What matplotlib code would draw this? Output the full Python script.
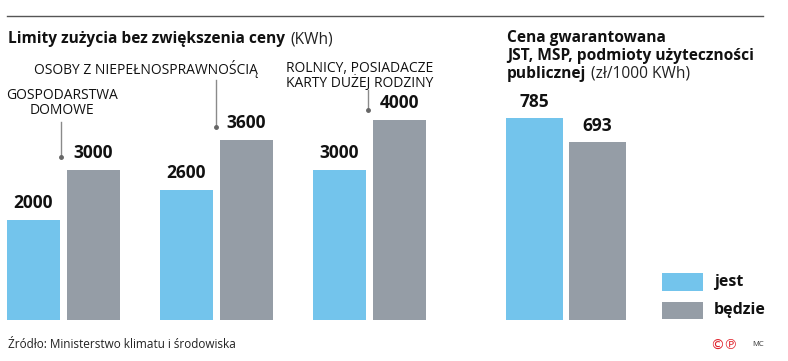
import matplotlib
matplotlib.use("Agg")
import matplotlib.pyplot as plt
from matplotlib.patches import Rectangle
from matplotlib.lines import Line2D

plt.rcParams['font.family'] = ['Open Sans', 'DejaVu Sans']

# dane
kategorie = ["GOSPODARSTWA\nDOMOWE", "OSOBY Z NIEPEŁNOSPRAWNOŚCIĄ", "ROLNICY, POSIADACZE\nKARTY DUŻEJ RODZINY"]
limity_jest = [2000, 2600, 3000]
limity_bedzie = [3000, 3600, 4000]
cena_jest = [785]
cena_bedzie = [693]
serie = ["jest", "będzie"]

BLUE = "#73C4EC"
GRAY = "#959DA6"
W, H = 788, 361


def fx(px):
    return px / W


def fy(py):
    return 1 - py / H


fig = plt.figure(figsize=(W / 100, H / 100), dpi=100)
fig.patch.set_facecolor("white")

# lewy wykres - osie w pikselach: baza y=320, 50 px / 1000 kWh
axL = fig.add_axes([0, fy(320), fx(460), 320 / H])
axL.set_xlim((0 - 63.5) / 153, (460 - 63.5) / 153)
axL.set_ylim(0, 6400)
axL.axis("off")

bw = 0.35
off = 0.196
xs = list(range(len(kategorie)))
b1 = axL.bar([x - off for x in xs], limity_jest, bw, color=BLUE)
b2 = axL.bar([x + off for x in xs], limity_bedzie, bw, color=GRAY)
for bars in (b1, b2):
    for r in bars:
        axL.annotate(f"{int(r.get_height())}", (r.get_x() + r.get_width() / 2, r.get_height()),
                     xytext=(0, 12.5), textcoords="offset points", ha="center", va="center",
                     fontsize=12.5, fontweight="bold", color="#111111")

# prawy wykres - 0.2573 px / zł
axR = fig.add_axes([fx(480), fy(320), fx(308), 320 / H])
axR.set_xlim((480 - 534.5) / 63, (788 - 534.5) / 63)
axR.set_ylim(0, 320 / 0.2573)
axR.axis("off")
r1 = axR.bar([0], cena_jest, 0.905, color=BLUE)
r2 = axR.bar([1], cena_bedzie, 0.905, color=GRAY)
for bars in (r1, r2):
    for r in bars:
        axR.annotate(f"{int(r.get_height())}", (r.get_x() + r.get_width() / 2, r.get_height()),
                     xytext=(0, 11.5), textcoords="offset points", ha="center", va="center",
                     fontsize=12.5, fontweight="bold", color="#111111")

# linia u góry
fig.add_artist(Line2D([fx(7), fx(763)], [fy(16), fy(16)], color="#555555", lw=1))

TS = 11.2
renderer = fig.canvas.get_renderer()


def after(txt, s, **kw):
    bb = txt.get_window_extent(renderer=renderer)
    return fig.text(fx(bb.x1 + 5), txt.get_position()[1], s, **kw)


# tytuły
t = fig.text(fx(8), fy(43), "Limity zużycia bez zwiększenia ceny", fontsize=TS,
             fontweight="bold", va="baseline", color="#111111")
after(t, "(KWh)", fontsize=TS, va="baseline", color="#222222")

fig.text(fx(507), fy(42), "Cena gwarantowana", fontsize=TS, fontweight="bold",
         va="baseline", color="#111111")
fig.text(fx(507), fy(60), "JST, MSP, podmioty użyteczności", fontsize=TS, fontweight="bold",
         va="baseline", color="#111111")
t3 = fig.text(fx(507), fy(78), "publicznej", fontsize=TS, fontweight="bold",
              va="baseline", color="#111111")
after(t3, "(zł/1000 KWh)", fontsize=TS, va="baseline", color="#222222")

# etykiety kategorii (środek bloku)
kat_pos = [(62, 103), (146, 69), (360, 76)]
for (x, y), k in zip(kat_pos, kategorie):
    fig.text(fx(x), fy(y), k, fontsize=10, ha="center", va="center",
             multialignment="center", linespacing=0.98, color="#111111")

# linie wskazujące
leaders = [(61, 122, 157), (216, 80, 127), (368, 90, 110)]
for x, y0, y1 in leaders:
    fig.add_artist(Line2D([fx(x), fx(x)], [fy(y0), fy(y1)], color="#8a8a8a", lw=1))
    fig.add_artist(Line2D([fx(x)], [fy(y1)], marker="o", ms=2.5, color="#666666", lw=0))

# legenda
for (y0, y1), s, c in zip([(273, 291), (302, 319)], serie, [BLUE, GRAY]):
    fig.add_artist(Rectangle((fx(662), fy(y1)), fx(703) - fx(662), fy(y0) - fy(y1),
                             transform=fig.transFigure, color=c, lw=0))
    fig.text(fx(714), fy((y0 + y1) / 2), s, fontsize=11.5, fontweight="bold", va="center",
             color="#111111")

# stopka
fig.text(fx(8), fy(345), "Źródło: Ministerstwo klimatu i środowiska", fontsize=8.5,
         va="center", color="#222222")
fig.text(fx(710), fy(345), "©℗", fontsize=10, va="center", color="#e0202a",
         family=['DejaVu Sans'])
fig.text(fx(752), fy(345), "MC", fontsize=5.5, va="center", color="#333333")

fig.savefig("out.png", dpi=100, facecolor="white")
